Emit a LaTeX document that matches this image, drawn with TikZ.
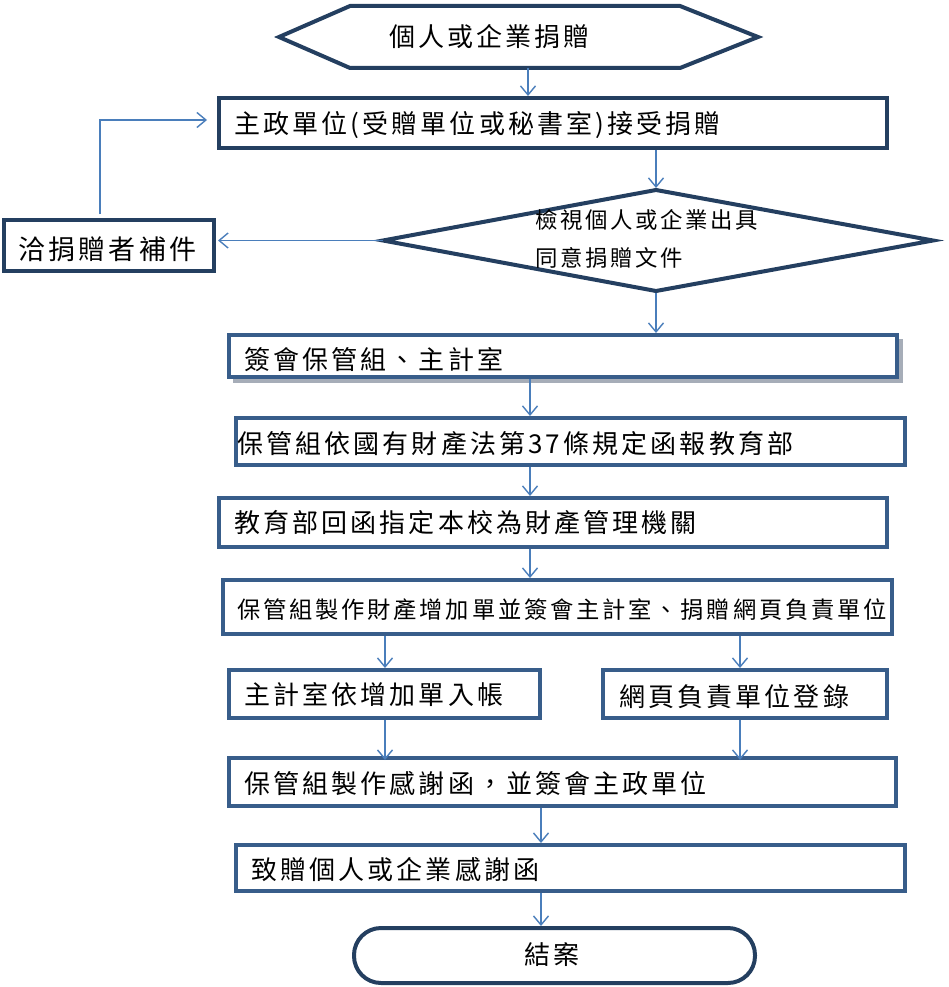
\documentclass[tikz,border=0pt]{standalone}
\usepackage{fontspec}
\usetikzlibrary{arrows.meta,calc}
\newfontfamily\cjk[LetterSpace=12]{Noto Sans CJK TC}
\definecolor{darknavy}{HTML}{243F60}
\definecolor{midblue}{HTML}{385D8A}
\definecolor{arrowblue}{HTML}{4A7EBB}
\definecolor{shadowgray}{HTML}{A6ADB8}
\tikzset{
  x=1pt, y=-1pt,
  shapebox/.style={draw=none, inner sep=0, outer sep=0},
  darkbox/.style={draw=darknavy, line width=4pt, inner sep=0, outer sep=0},
  midbox/.style={draw=midblue, line width=4pt, inner sep=0, outer sep=0},
  txt/.style={inner sep=0, anchor=west, font=\cjk\fontsize{26}{30}\selectfont},
  arr/.style={draw=arrowblue, line width=1.4pt, -{Straight Barb[length=9pt,width=15pt,line width=1.4pt]}},
}
\begin{document}
\begin{tikzpicture}
\useasboundingbox (0,0) rectangle (948,987);
% column coordinates
\coordinate (cA) at (528,0);
\coordinate (cB) at (656,0);
\coordinate (cC) at (530,0);
\coordinate (cL) at (385,0);
\coordinate (cR) at (740,0);
\coordinate (cD) at (541,0);
\coordinate (fbTurn) at (100,120);
\coordinate (fbEnd) at (207,120);

% hexagon
\node[shapebox, minimum width=479, minimum height=62] (hex) at (518.5,37) {};
\draw[draw=darknavy, line width=4pt, line join=miter] (hex.west) -- ([xshift=71]hex.north west) -- ([xshift=-78]hex.north east) -- (hex.east) -- ([xshift=-78]hex.south east) -- ([xshift=71]hex.south west) -- cycle;
\node[txt] (hext) at (389,37) {個人或企業捐贈};

% box 1
\node[darkbox, minimum width=668, minimum height=50] (b1) at (553,123) {};
\node[txt] (b1t) at (234,125) {主政單位(受贈單位或秘書室)接受捐贈};

% diamond
\node[shapebox, minimum width=550, minimum height=101] (dia) at (658,240.5) {};
\draw[draw=darknavy, line width=4pt, line join=miter] ([xshift=-2]dia.north) -- (dia.east) -- ([xshift=-2]dia.south) -- (dia.west) -- cycle;
\node[txt, font=\cjk\fontsize{22.4}{26}\selectfont] (diat1) at (535,220) {檢視個人或企業出具};
\node[txt, font=\cjk\fontsize{22.4}{26}\selectfont] (diat2) at (535,258) {同意捐贈文件};

% supplement box
\node[darkbox, minimum width=210, minimum height=51] (sup) at (109,245.5) {};
\node[txt, font=\cjk\fontsize{27}{31}\selectfont] (supt) at (18,249) {洽捐贈者補件};

% box 2 with shadow
\fill[shadowgray] (233,339) rectangle (903,383);
\node[draw=midblue, line width=3.5pt, fill=white, minimum width=668, minimum height=42, inner sep=0, outer sep=0] (b2) at (563,356) {};
\node[txt] (b2t) at (244,360) {簽會保管組、主計室};

% box 3
\node[midbox, minimum width=669, minimum height=47] (b3) at (570.5,441.5) {};
\node[txt] (b3t) at (237,444) {保管組依國有財產法第37條規定函報教育部};

% box 4
\node[midbox, minimum width=668, minimum height=49] (b4) at (553,522.5) {};
\node[txt] (b4t) at (234,523) {教育部回函指定本校為財產管理機關};

% box 5
\node[midbox, minimum width=669, minimum height=54] (b5) at (557.5,607) {};
\node[txt, font=\cjk\fontsize{23.3}{27}\selectfont] (b5t) at (237,610) {保管組製作財產增加單並簽會主計室、捐贈網頁負責單位};

% box 6 / 7
\node[midbox, minimum width=311, minimum height=48] (b6) at (384.5,694) {};
\node[txt] (b6t) at (244,695) {主計室依增加單入帳};
\node[midbox, minimum width=284, minimum height=48] (b7) at (745,694) {};
\node[txt] (b7t) at (619,697) {網頁負責單位登錄};

% box 8
\node[midbox, minimum width=667, minimum height=48] (b8) at (562.5,782) {};
\node[txt] (b8t) at (244,784) {保管組製作感謝函，並簽會主政單位};

% box 9
\node[midbox, minimum width=669, minimum height=46] (b9) at (570.5,868) {};
\node[txt] (b9t) at (251,870) {致贈個人或企業感謝函};

% end
\node[draw=darknavy, line width=4pt, rounded corners=27pt, minimum width=401, minimum height=55, inner sep=0, outer sep=0] (endn) at (554.5,955.5) {};
\node[txt, anchor=center] (endt) at (552,955) {結案};

% connectors
\draw[arr] (hex.south -| cA) -- ([yshift=2]b1.north -| cA);
\draw[arr] ([yshift=-2]b1.south -| cB) -- ([yshift=2]dia.north -| cB);
\draw[arr] (dia.west) -- ([xshift=4]dia.west -| sup.east);
\draw[arr] ([yshift=6]sup.north -| fbTurn) -- (fbTurn) -- (fbEnd);
\draw[arr] ([yshift=-2]dia.south -| cB) -- ([yshift=2]b2.north -| cB);
\draw[arr] ([yshift=-2]b2.south -| cC) -- ([yshift=2]b3.north -| cC);
\draw[arr] ([yshift=-2]b3.south -| cC) -- ([yshift=2]b4.north -| cC);
\draw[arr] ([yshift=-2]b4.south -| cC) -- ([yshift=2]b5.north -| cC);
\draw[arr] ([yshift=-2]b5.south -| cL) -- ([yshift=2]b6.north -| cL);
\draw[arr] ([yshift=-2]b5.south -| cR) -- ([yshift=2]b7.north -| cR);
\draw[arr] ([yshift=-2]b6.south -| cL) -- ([yshift=-2]b8.north -| cL);
\draw[arr] ([yshift=-2]b7.south -| cR) -- ([yshift=-2]b8.north -| cR);
\draw[arr] ([yshift=-2]b8.south -| cD) -- ([yshift=2]b9.north -| cD);
\draw[arr] ([yshift=-2]b9.south -| cD) -- ([yshift=2]endn.north -| cD);
\end{tikzpicture}
\end{document}
